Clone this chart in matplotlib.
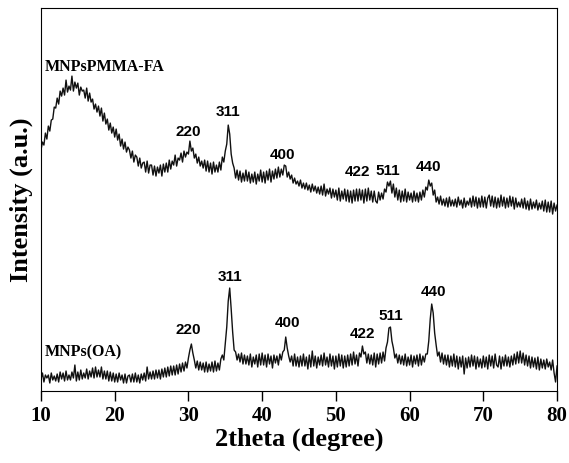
import matplotlib.pyplot as plt
import numpy as np

# 2theta grid, 10 to 80 degrees in 0.2 degree steps
two_theta = np.round(np.arange(10.0, 80.01, 0.2), 1)

# MNPsPMMA-FA (upper trace), intensity in a.u.
pmma_fa = [
    241, 249, 246, 258, 252, 265, 260, 271, 272, 284,
    283, 293, 287, 300, 295, 303, 296, 311, 299, 305,
    301, 315, 300, 309, 303, 308, 296, 304, 300, 301,
    293, 303, 290, 298, 289, 292, 282, 287, 279, 285,
    275, 283, 270, 278, 267, 272, 261, 268, 258, 264,
    254, 262, 251, 257, 245, 252, 242, 249, 239, 244,
    241, 233, 240, 229, 236, 234, 225, 233, 223, 228,
    229, 219, 230, 218, 226, 226, 216, 225, 215, 224,
    218, 226, 215, 227, 219, 228, 219, 231, 222, 230,
    226, 236, 225, 233, 231, 238, 229, 240, 234, 239,
    237, 250, 240, 243, 233, 237, 228, 234, 225, 230,
    223, 231, 220, 230, 219, 228, 217, 229, 219, 226,
    219, 229, 221, 234, 229, 240, 247, 266, 257, 237,
    228, 223, 213, 221, 211, 220, 209, 218, 210, 221,
    210, 219, 208, 217, 209, 219, 207, 217, 210, 221,
    209, 219, 208, 220, 211, 222, 209, 220, 212, 222,
    213, 224, 214, 222, 216, 226, 225, 214, 219, 212,
    216, 208, 213, 207, 210, 205, 211, 203, 208, 202,
    208, 201, 206, 199, 207, 200, 205, 198, 204, 197,
    205, 196, 207, 195, 202, 197, 203, 193, 202, 194,
    201, 191, 203, 190, 200, 192, 202, 190, 201, 189,
    200, 188, 201, 190, 202, 190, 202, 191, 201, 188,
    202, 190, 203, 191, 200, 189, 200, 190, 188, 199,
    191, 198, 192, 202, 199, 209, 205, 210, 198, 207,
    194, 203, 191, 201, 189, 200, 190, 202, 189, 199,
    191, 198, 189, 200, 190, 198, 189, 199, 191, 201,
    194, 204, 201, 211, 205, 208, 196, 201, 189, 194,
    187, 195, 186, 192, 185, 193, 184, 194, 185, 191,
    185, 192, 184, 194, 186, 191, 183, 193, 184, 190,
    186, 193, 184, 195, 185, 194, 183, 193, 184, 195,
    184, 194, 183, 193, 196, 185, 195, 184, 194, 183,
    193, 184, 196, 185, 194, 183, 193, 184, 195, 185,
    194, 182, 193, 184, 189, 184, 192, 183, 193, 182,
    190, 181, 192, 182, 189, 183, 191, 181, 188, 182,
    190, 180, 191, 179, 189, 179, 190, 177, 188, 180,
    186,
]

# MNPs(OA) (lower trace), intensity in a.u.
mnps_oa = [
    12, 18, 9, 16, 13, 16, 8, 18, 11, 15,
    10, 17, 9, 19, 12, 18, 10, 20, 11, 16,
    11, 19, 13, 26, 10, 19, 11, 21, 12, 18,
    13, 22, 12, 20, 14, 23, 13, 24, 14, 21,
    14, 24, 12, 20, 12, 20, 10, 19, 10, 18,
    9, 17, 9, 18, 11, 16, 8, 17, 8, 15,
    16, 9, 17, 9, 18, 9, 16, 8, 17, 11,
    18, 10, 24, 12, 19, 12, 20, 12, 21, 13,
    21, 12, 22, 14, 23, 14, 24, 15, 25, 16,
    25, 16, 26, 17, 27, 19, 28, 20, 29, 23,
    33, 41, 47, 38, 31, 23, 30, 21, 29, 21,
    28, 19, 29, 19, 27, 20, 29, 19, 30, 20,
    28, 21, 32, 36, 31, 48, 64, 90, 103, 82,
    59, 41, 39, 31, 37, 29, 38, 27, 36, 27,
    35, 26, 37, 24, 34, 27, 36, 24, 37, 26,
    38, 26, 36, 24, 37, 27, 35, 23, 36, 28,
    35, 26, 37, 31, 39, 41, 54, 43, 35, 29,
    35, 25, 37, 25, 34, 24, 35, 25, 37, 25,
    34, 22, 36, 24, 40, 25, 35, 23, 34, 26,
    36, 25, 38, 26, 34, 24, 37, 25, 35, 22,
    35, 24, 37, 25, 36, 23, 35, 24, 36, 25,
    37, 26, 39, 27, 36, 25, 38, 34, 45, 37,
    39, 28, 37, 27, 36, 26, 38, 24, 37, 27,
    38, 28, 39, 30, 43, 49, 63, 64, 50, 43,
    33, 37, 28, 36, 27, 35, 26, 37, 25, 34,
    26, 36, 24, 35, 27, 36, 25, 37, 26, 35,
    29, 37, 37, 50, 72, 87, 78, 58, 46, 35,
    39, 29, 38, 27, 36, 26, 36, 24, 35, 25,
    37, 24, 35, 22, 34, 24, 35, 17, 33, 23,
    34, 24, 36, 25, 35, 22, 34, 24, 32, 23,
    35, 24, 34, 22, 36, 25, 35, 23, 37, 26,
    24, 35, 22, 34, 25, 36, 25, 34, 24, 35,
    26, 37, 27, 39, 28, 40, 28, 38, 26, 36,
    25, 35, 23, 34, 24, 33, 22, 34, 21, 32,
    23, 31, 22, 32, 24, 29, 21, 31, 18, 9,
    25,
]

# peak labels (hkl), position in 2theta and label height
hkl = ['220', '311', '400', '422', '511', '440']
top_lab_x = [29.95, 35.4, 42.8, 53.0, 57.1, 62.5]
top_lab_y = [259, 279, 236, 219, 220, 224]
bot_lab_x = [29.95, 35.6, 43.4, 53.6, 57.5, 63.2]
bot_lab_y = [61, 114, 68, 57, 75, 99]

fig = plt.figure(figsize=(5.69, 4.63), dpi=100)
ax = fig.add_axes([0.072, 0.1555, 0.907, 0.827])

ax.plot(two_theta, pmma_fa, color='#111111', lw=1.0)
ax.plot(two_theta, mnps_oa, color='#111111', lw=1.0)

for lab, x, y in zip(hkl, top_lab_x, top_lab_y):
    ax.text(x, y, lab, ha='center', va='center', fontsize=11,
            fontweight='bold', family='Liberation Sans')
for lab, x, y in zip(hkl, bot_lab_x, bot_lab_y):
    ax.text(x, y, lab, ha='center', va='center', fontsize=11,
            fontweight='bold', family='Liberation Sans')

ax.text(10.5, 324, 'MNPsPMMA-FA', ha='left', va='center', fontsize=11.5,
        fontweight='bold', family='Liberation Serif')
ax.text(10.5, 39, 'MNPs(OA)', ha='left', va='center', fontsize=11.5,
        fontweight='bold', family='Liberation Serif')

ax.set_xlim(10, 80)
ax.set_ylim(0, 383)
ax.set_xticks(range(10, 81, 10))
ax.set_yticks([])
ax.tick_params(axis='x', direction='out', length=7, width=1, pad=4)
for lab in ax.get_xticklabels():
    lab.set_family('Liberation Serif')
    lab.set_fontweight('bold')
    lab.set_fontsize(15)

ax.set_xlabel('2theta (degree)', family='Liberation Serif', fontweight='bold',
              fontsize=19, labelpad=1)
ax.set_ylabel('Intensity (a.u.)', family='Liberation Serif', fontweight='bold',
              fontsize=19, labelpad=6)

fig.savefig('out.png', dpi=100)
